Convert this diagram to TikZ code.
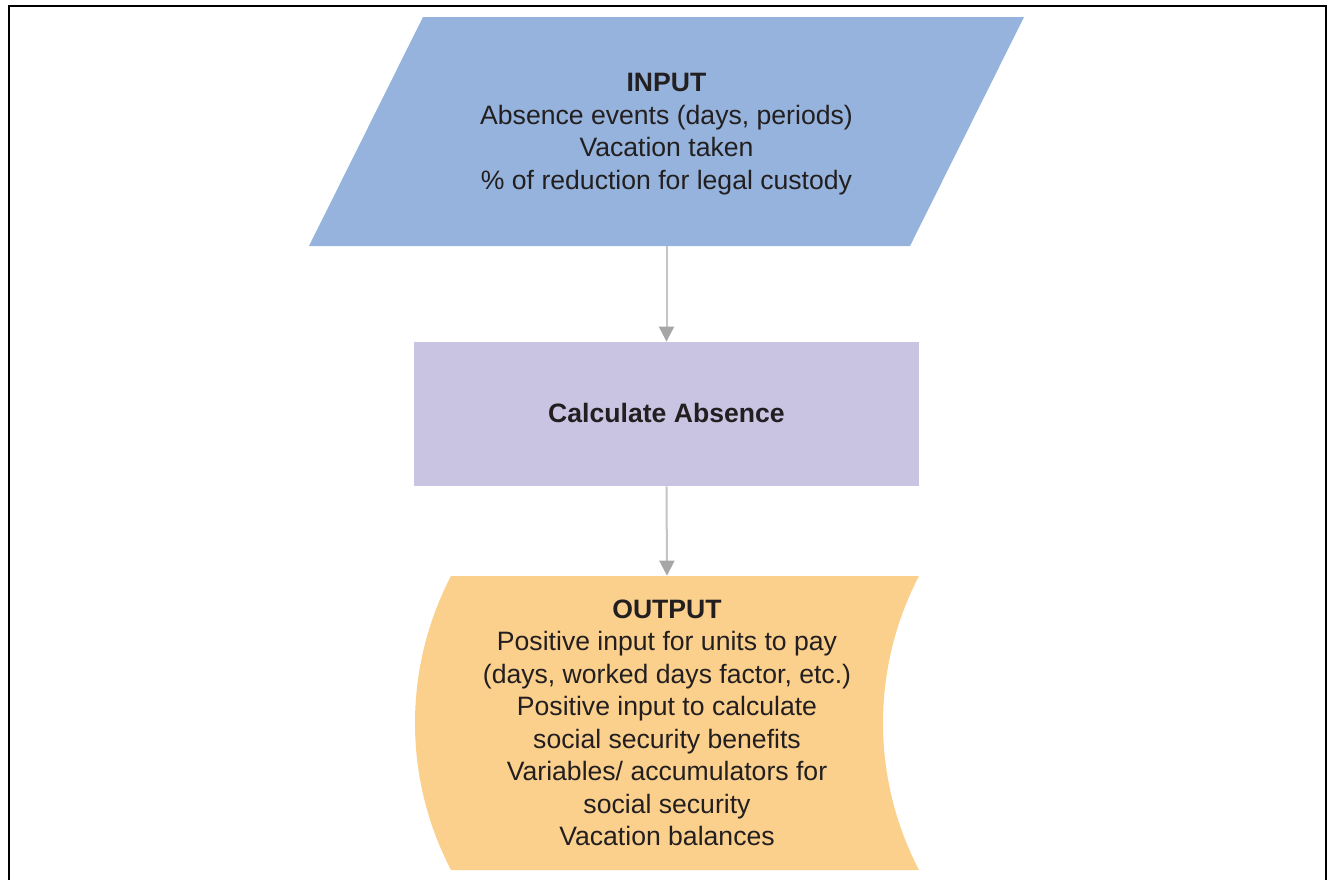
\documentclass[tikz,border=0pt]{standalone}
\usepackage{fontspec}
\setmainfont{Liberation Sans}
\usetikzlibrary{arrows.meta}
\definecolor{inblue}{HTML}{95B3DC}
\definecolor{calcpurple}{HTML}{C8C4E2}
\definecolor{outorange}{HTML}{FBD08D}
\definecolor{linkgray}{HTML}{C4C4C4}
\definecolor{tipgray}{HTML}{A6A6A6}
\definecolor{txt}{HTML}{231F20}
\tikzset{
  label/.style={align=center, text=txt, inner sep=0pt,
    font=\fontsize{13.3}{16.25}\selectfont},
  frame/.style={draw=none, minimum width=#1, inner sep=0pt},
  link/.style={draw=linkgray, line width=1pt,
    -{Triangle[length=7.5pt,width=7.5pt,color=tipgray]}},
}
\begin{document}
\begin{tikzpicture}[x=0.5pt,y=-0.5pt]
\useasboundingbox (0,0) rectangle (1328,880);
% outer border, open at the bottom
\draw[line width=1.3pt] (9,880) -- (9,6) -- (1326,6) -- (1326,880);

% input parallelogram
\fill[inblue] (423,17) -- (1024,17) -- (910,246) -- (309,246) -- cycle;
\node[frame=300pt, minimum height=114.5pt] (input) at (666.5,131.5) {};
\node[label] (inputtext) at ([yshift=-1.2pt]input.center)
  {\textbf{INPUT}\\Absence events (days, periods)\\Vacation taken\\\% of reduction for legal custody};

% processing step
\fill[calcpurple] (414,342) rectangle (919,486);
\node[frame=252.5pt, minimum height=72pt] (calc) at (666.5,414) {};
\node[label] (calctext) at ([yshift=0.4pt]calc.center) {\textbf{Calculate Absence}};

% output display shape, both sides circular arcs bowing left
\fill[outorange] (451,576) -- (919,576)
  .. controls (871,668) and (871,778) .. (919,870)
  -- (451,870)
  .. controls (403,778) and (403,668) .. (451,576) -- cycle;
\node[frame=234pt, minimum height=147pt] (output) at (667,723) {};
\node[label] (outputtext) at (output.center)
  {\textbf{OUTPUT}\\Positive input for units to pay\\(days, worked days factor, etc.)\\Positive input to calculate\\social security benefits\\Variables/ accumulators for\\social security\\Vacation balances};

% connectors
\draw[link] (input.south) -- (calc.north);
\draw[link] (calc.south) -- (output.north);
\end{tikzpicture}
\end{document}
